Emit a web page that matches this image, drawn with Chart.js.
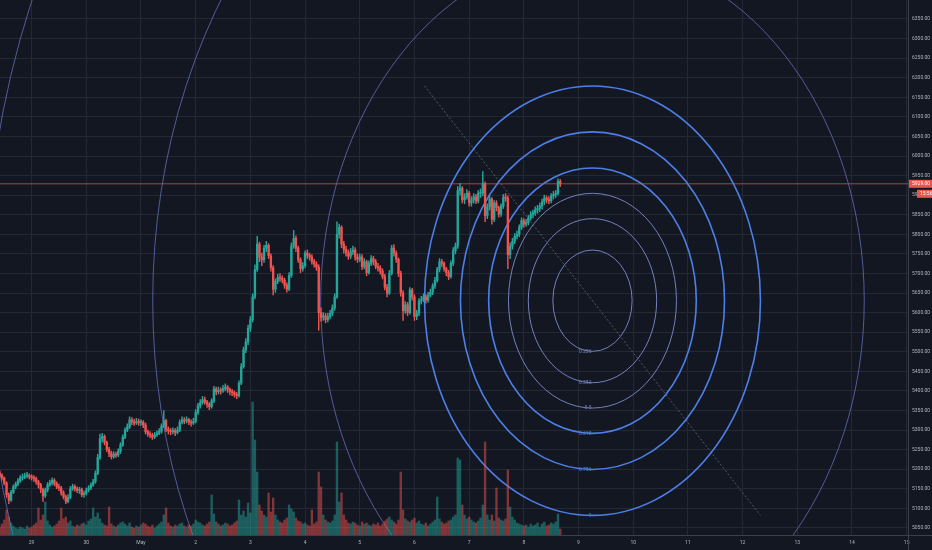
<!DOCTYPE html>
<html>
<head>
<meta charset="utf-8">
<script src="https://cdn.jsdelivr.net/npm/chart.js@4.4.0/dist/chart.umd.min.js"></script>
<style>
  html, body { margin: 0; padding: 0; background: #131722; overflow: hidden; }
  #wrap { width: 932px; height: 550px; }
</style>
</head>
<body>
<div id="wrap"><canvas id="chart" width="932" height="550"></canvas></div>
<script>
// hourly candles, first one Apr 28 10:00 (x axis = days from May 1 00:00)
const firstCandleDay = -2.5833
const firstOpen = 5190

const closes = [
  5185,5178,5165,5135,5121,5141,5155,5162,5170,5178,
  5180,5183,5184,5181,5178,5176,5168,5160,5148,5132,
  5147,5160,5165,5172,5163,5155,5152,5140,5130,5118,
  5128,5150,5156,5150,5146,5148,5135,5138,5147,5152,
  5160,5168,5190,5230,5278,5284,5268,5251,5240,5232,
  5238,5236,5246,5262,5282,5300,5308,5326,5321,5318,
  5322,5319,5320,5313,5296,5290,5287,5282,5288,5292,
  5297,5310,5324,5302,5298,5296,5299,5294,5300,5320,
  5326,5323,5327,5320,5318,5322,5345,5362,5370,5378,
  5372,5366,5360,5375,5405,5398,5402,5400,5406,5410,
  5404,5398,5396,5391,5388,5420,5462,5505,5525,5560,
  5582,5640,5710,5775,5742,5735,5765,5772,5745,5715,
  5660,5680,5690,5688,5683,5670,5660,5695,5770,5790,
  5765,5735,5712,5720,5752,5746,5742,5730,5724,5716,
  5600,5588,5592,5582,5590,5598,5612,5640,5800,5818,
  5775,5762,5752,5744,5755,5760,5742,5736,5742,5717,
  5730,5702,5726,5738,5730,5718,5714,5706,5692,5665,
  5650,5700,5765,5752,5736,5700,5650,5605,5620,5600,
  5658,5640,5590,5598,5630,5633,5640,5632,5645,5652,
  5668,5682,5710,5730,5726,5712,5702,5692,5726,5758,
  5770,5912,5918,5888,5895,5905,5880,5888,5896,5885,
  5905,5905,5930,5848,5870,5890,5838,5880,5868,5852,
  5872,5895,5892,5748,5770,5782,5795,5800,5818,5835,
  5826,5830,5842,5850,5855,5862,5866,5872,5883,5893,
  5888,5886,5898,5902,5905,5935,5929
]

const highs = [
  5196,5188,5180,5168,5140,5146,5160,5167,5176,5184,
  5188,5190,5192,5188,5186,5184,5180,5172,5164,5152,
  5152,5166,5172,5178,5176,5168,5162,5156,5145,5134,
  5135,5156,5162,5160,5155,5154,5152,5144,5152,5158,
  5165,5174,5196,5238,5290,5292,5288,5272,5256,5246,
  5245,5244,5252,5268,5288,5306,5316,5334,5332,5328,
  5330,5328,5326,5324,5318,5300,5296,5292,5294,5298,
  5304,5316,5350,5328,5308,5304,5306,5304,5308,5326,
  5334,5332,5334,5330,5326,5330,5352,5368,5378,5386,
  5384,5376,5370,5380,5412,5410,5410,5408,5414,5418,
  5414,5408,5404,5400,5396,5426,5470,5512,5534,5568,
  5590,5648,5722,5795,5780,5752,5772,5782,5776,5750,
  5720,5686,5698,5700,5694,5688,5676,5702,5778,5810,
  5796,5770,5740,5728,5758,5760,5752,5748,5736,5730,
  5722,5612,5600,5598,5598,5606,5620,5648,5832,5826,
  5822,5782,5770,5760,5764,5770,5766,5750,5750,5748,
  5738,5734,5732,5746,5744,5736,5726,5720,5712,5698,
  5672,5708,5772,5774,5758,5740,5706,5656,5628,5626,
  5664,5662,5646,5606,5636,5642,5648,5646,5652,5660,
  5674,5690,5716,5738,5736,5730,5716,5708,5732,5766,
  5778,5922,5930,5922,5904,5914,5910,5896,5904,5902,
  5912,5916,5960,5934,5878,5898,5894,5886,5886,5872,
  5878,5902,5904,5898,5778,5790,5802,5808,5824,5842,
  5840,5838,5848,5858,5862,5870,5874,5880,5890,5900,
  5898,5896,5904,5910,5912,5942,5940
]

const lows = [
  5180,5172,5160,5128,5112,5118,5138,5150,5158,5166,
  5172,5176,5178,5175,5172,5168,5162,5152,5140,5118,
  5128,5142,5156,5160,5158,5150,5145,5134,5124,5112,
  5114,5124,5146,5144,5140,5138,5130,5128,5134,5142,
  5148,5156,5164,5186,5225,5270,5262,5245,5232,5226,
  5228,5230,5232,5240,5258,5278,5296,5304,5314,5312,
  5314,5312,5312,5306,5290,5284,5280,5276,5278,5284,
  5288,5292,5306,5296,5290,5288,5290,5286,5290,5296,
  5316,5316,5318,5314,5310,5314,5318,5340,5356,5366,
  5366,5358,5352,5356,5370,5390,5392,5392,5396,5400,
  5396,5390,5388,5384,5380,5384,5416,5458,5498,5518,
  5552,5576,5635,5705,5730,5720,5728,5756,5738,5706,
  5645,5652,5674,5680,5676,5662,5652,5656,5690,5764,
  5756,5728,5702,5706,5714,5738,5734,5724,5716,5708,
  5555,5578,5580,5574,5576,5584,5592,5606,5636,5790,
  5766,5752,5744,5736,5738,5748,5734,5728,5730,5710,
  5712,5694,5698,5720,5722,5712,5706,5698,5686,5658,
  5640,5646,5696,5744,5728,5692,5642,5580,5598,5592,
  5596,5632,5580,5582,5592,5622,5628,5624,5626,5640,
  5646,5662,5678,5704,5718,5706,5694,5684,5688,5720,
  5750,5764,5900,5880,5878,5890,5872,5872,5880,5878,
  5880,5894,5898,5832,5840,5862,5826,5832,5860,5844,
  5846,5866,5884,5712,5738,5762,5776,5788,5794,5812,
  5818,5820,5824,5836,5842,5848,5854,5858,5864,5876,
  5880,5878,5880,5890,5894,5900,5922
]

const volumes = [
  80,110,150,250,180,120,90,70,60,80,
  70,60,90,70,80,100,120,270,150,200,
  330,140,100,80,90,110,140,270,160,180,
  120,140,90,80,100,90,110,120,100,140,
  160,270,180,220,160,120,100,90,280,110,
  90,80,100,120,130,110,90,120,80,70,
  90,80,100,120,110,90,80,100,70,90,
  110,130,200,270,120,90,80,100,90,110,
  120,90,80,100,90,110,150,130,120,100,
  90,110,130,400,210,130,110,90,100,120,
  110,90,100,120,140,350,200,240,180,320,
  220,1330,950,630,300,240,200,180,420,230,
  370,200,150,130,120,150,170,300,260,230,
  170,140,130,110,120,100,90,250,110,130,
  630,480,200,150,130,120,140,200,930,330,
  420,200,150,120,110,130,120,100,90,130,
  110,120,100,90,110,100,120,90,110,140,
  160,180,150,130,110,150,630,250,160,140,
  130,150,170,120,140,110,100,120,90,110,
  130,150,380,160,130,110,120,140,150,180,
  200,770,750,300,200,160,180,150,130,120,
  140,170,300,930,200,150,200,140,470,170,
  150,140,160,650,280,180,150,120,110,100,
  90,100,80,110,90,100,120,80,110,130,
  90,100,120,110,130,210,60
]

// time axis labels, one per day starting at Apr 29
const dayLabels = ['29','30','May','2','3','4','5','6','7','8','9','10','11','12','13','14','15']
const firstLabelDay = -2

// fib circles drawn between two anchor points
const fibLevels = [0.236, 0.382, 0.5, 0.618, 0.786, 1, 1.618, 2.618, 3.618, 4.236]
const fibStart = { x: 5.184, y: 6179 }
const fibEnd = { x: 11.327, y: 5082 }

const lastPrice = 5929
const countdown = '15:56'

const xMin = -2.578, xMax = 14.025
const yMin = 5032, yMax = 6398.5
const volMax = 5350

const upColor = '#26a69a'
const downColor = '#ef5350'
const gridColor = '#242834'
const axisColor = '#3b3f4b'
const tickColor = '#b2b5be'
const fontFamily = 'Roboto, "Liberation Sans", sans-serif'

const times = closes.map((c, i) => firstCandleDay + i / 24)
const opens = closes.map((c, i) => i === 0 ? firstOpen : closes[i - 1])
const isUp = closes.map((c, i) => c >= opens[i])

function levelStyle(lv) {
  if (lv >= 0.618 && lv <= 1) return { color: '#4d7fe8', width: 1.6 }
  if (lv < 0.618) return { color: 'rgba(125,140,205,0.9)', width: 1 }
  return { color: 'rgba(105,115,195,0.75)', width: 1 }
}

const fibPlugin = {
  id: 'fibCircles',
  beforeDatasetsDraw(chart) {
    const { ctx, chartArea, scales: { x, y } } = chart
    const cx = x.getPixelForValue((fibStart.x + fibEnd.x) / 2)
    const cy = y.getPixelForValue((fibStart.y + fibEnd.y) / 2)
    const rx = Math.abs(x.getPixelForValue(fibEnd.x) - x.getPixelForValue(fibStart.x)) / 2
    const ry = Math.abs(y.getPixelForValue(fibEnd.y) - y.getPixelForValue(fibStart.y)) / 2
    ctx.save()
    ctx.beginPath()
    ctx.rect(chartArea.left, chartArea.top, chartArea.width, chartArea.height)
    ctx.clip()
    fibLevels.forEach(lv => {
      const st = levelStyle(lv)
      ctx.beginPath()
      ctx.ellipse(cx, cy, rx * lv, ry * lv, 0, 0, Math.PI * 2)
      ctx.strokeStyle = st.color
      ctx.lineWidth = st.width
      ctx.stroke()
      ctx.fillStyle = st.color
      ctx.font = '5px ' + fontFamily
      ctx.textAlign = 'right'
      ctx.textBaseline = 'middle'
      ctx.fillText(String(lv), cx - 1, cy + ry * lv)
    })
    ctx.restore()
  }
}

const priceTagPlugin = {
  id: 'priceTag',
  afterDraw(chart) {
    const { ctx, chartArea, scales: { y } } = chart
    const W = chart.width, H = chart.height
    ctx.save()
    // axis frame lines
    ctx.strokeStyle = axisColor
    ctx.lineWidth = 1
    ctx.beginPath()
    ctx.moveTo(chartArea.right + 0.5, 0)
    ctx.lineTo(chartArea.right + 0.5, H)
    ctx.moveTo(0, chartArea.bottom + 0.5)
    ctx.lineTo(W, chartArea.bottom + 0.5)
    ctx.stroke()
    // last price + countdown boxes
    const py = y.getPixelForValue(lastPrice)
    ctx.fillStyle = '#ef5350'
    ctx.fillRect(chartArea.right + 1, py - 4, W - chartArea.right - 1, 8)
    ctx.fillRect(chartArea.right + 9, py + 6, W - chartArea.right - 9, 8)
    ctx.fillStyle = '#ffffff'
    ctx.font = '5px ' + fontFamily
    ctx.textBaseline = 'middle'
    ctx.textAlign = 'left'
    ctx.fillText(lastPrice.toFixed(2), chartArea.right + 4, py)
    ctx.fillText(countdown, chartArea.right + 12, py + 10)
    ctx.restore()
  }
}

const chart = new Chart(document.getElementById('chart'), {
  type: 'bar',
  data: {
    datasets: [
      {
        label: 'body',
        data: times.map((t, i) => ({ x: t, y: [opens[i], closes[i]] })),
        backgroundColor: isUp.map(u => u ? upColor : downColor),
        barThickness: 1.7,
        minBarLength: 1,
        grouped: false,
        order: 1
      },
      {
        label: 'wick',
        data: times.map((t, i) => ({ x: t, y: [lows[i], highs[i]] })),
        backgroundColor: isUp.map(u => u ? upColor : downColor),
        barThickness: 0.8,
        grouped: false,
        order: 2
      },
      {
        type: 'line',
        label: 'last',
        data: [{ x: xMin, y: lastPrice }, { x: xMax, y: lastPrice }],
        borderColor: 'rgba(239,83,80,0.7)',
        borderWidth: 1,
        pointRadius: 0,
        order: 3
      },
      {
        type: 'line',
        label: 'trend',
        data: [fibStart, fibEnd],
        borderColor: 'rgba(150,155,170,0.5)',
        borderWidth: 1,
        borderDash: [2, 2],
        pointRadius: 0,
        order: 4
      },
      {
        label: 'volume',
        yAxisID: 'vol',
        data: times.map((t, i) => ({ x: t, y: volumes[i] })),
        backgroundColor: isUp.map(u => u ? 'rgba(38,166,154,0.5)' : 'rgba(239,83,80,0.5)'),
        barThickness: 1.7,
        grouped: false,
        order: 5
      }
    ]
  },
  options: {
    responsive: false,
    animation: false,
    layout: { padding: 0 },
    plugins: { legend: { display: false }, tooltip: { enabled: false } },
    scales: {
      x: {
        type: 'linear',
        min: xMin,
        max: xMax,
        offset: false,
        grid: { color: gridColor, drawTicks: false, offset: false },
        border: { display: false },
        ticks: {
          stepSize: 1,
          includeBounds: false,
          autoSkip: false,
          maxRotation: 0,
          padding: 5,
          color: tickColor,
          font: { size: 5, family: fontFamily },
          callback: v => dayLabels[Math.round(v - firstLabelDay)] || ''
        },
        afterFit: s => { s.height = 15; s.paddingLeft = 0; s.paddingRight = 0 }
      },
      y: {
        position: 'right',
        min: yMin,
        max: yMax,
        beginAtZero: false,
        grid: { color: gridColor, drawTicks: false },
        border: { display: false },
        ticks: {
          stepSize: 50,
          includeBounds: false,
          padding: 4,
          color: tickColor,
          font: { size: 5, family: fontFamily },
          callback: v => v.toFixed(2)
        },
        afterFit: s => { s.width = 24; s.paddingTop = 0; s.paddingBottom = 0 }
      },
      vol: {
        display: false,
        min: 0,
        max: volMax,
        afterFit: s => { s.paddingTop = 0; s.paddingBottom = 0 }
      }
    }
  },
  plugins: [fibPlugin, priceTagPlugin]
})
</script>
</body>
</html>
